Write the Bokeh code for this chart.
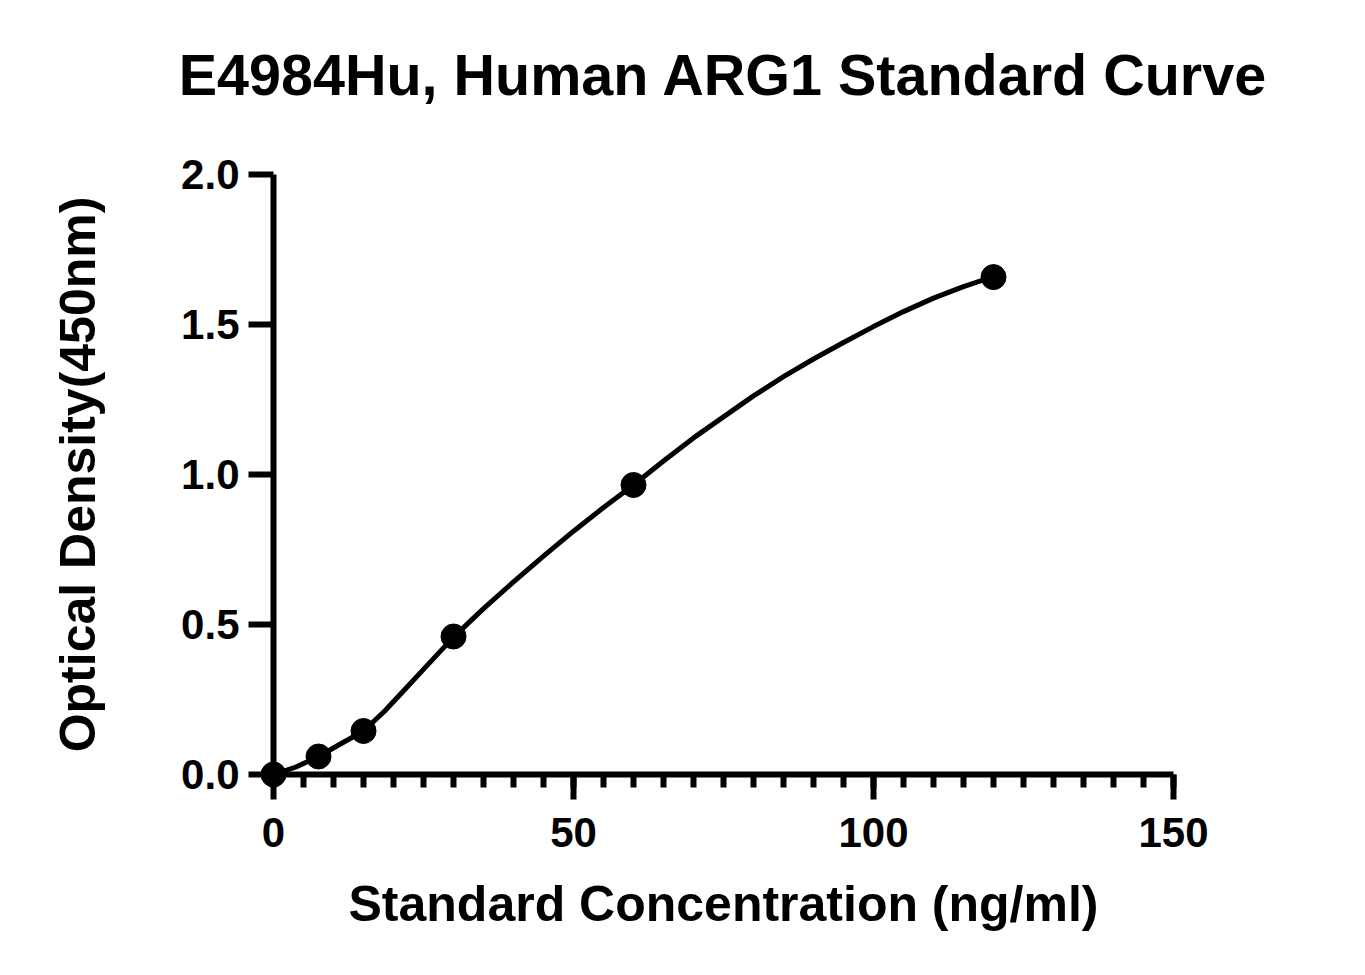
from bokeh.plotting import figure
from bokeh.models import Range1d, FixedTicker, CustomJSTickFormatter, Title
from bokeh.embed import file_html
from bokeh.resources import INLINE

TITLE = "E4984Hu, Human ARG1 Standard Curve"

# Standard points
std_conc = [0, 7.5, 15, 30, 60, 120]
std_od = [0.0, 0.06, 0.145, 0.46, 0.965, 1.658]

# Fitted curve
curve_conc = [0, 3.75, 7.5, 11, 15, 18.5, 22, 26, 30, 35, 40, 45, 50, 55, 60,
              65, 70, 75, 80, 85, 90, 95, 100, 105, 110, 115, 120]
curve_od = [0.0, 0.025, 0.06, 0.10, 0.145, 0.211, 0.286, 0.372, 0.458, 0.553, 0.642, 0.728, 0.811, 0.89, 0.965,
            1.045, 1.122, 1.192, 1.262, 1.326, 1.385, 1.44, 1.493, 1.543, 1.588, 1.626, 1.66]

x_ticks = [0, 50, 100, 150]
y_ticks = [0.0, 0.5, 1.0, 1.5, 2.0]
x_minor = [v for v in range(0, 151, 5)]

FONT = "Liberation Sans"

p = figure(frame_width=900, frame_height=600,
           min_border_left=273, min_border_top=174,
           min_border_right=172, min_border_bottom=181,
           x_range=Range1d(0, 150), y_range=Range1d(0, 2.0),
           output_backend="svg", toolbar_location=None,
           title=TITLE)

p.title.text_font = FONT
p.title.text_font_size = "57.5px"
p.title.text_font_style = "bold"
p.title.align = "center"
p.title.text_color = "black"
p.title.standoff = 10

# blank spacer between the title and the plot frame
spacer = Title(text=" ", text_font_size="10px", standoff=50)
p.add_layout(spacer, "above")

p.outline_line_color = None
p.xgrid.grid_line_color = None
p.ygrid.grid_line_color = None
p.background_fill_color = "white"
p.border_fill_color = "white"

for ax in (p.xaxis[0], p.yaxis[0]):
    ax.axis_line_width = 6
    ax.axis_line_color = "black"
    ax.major_tick_line_width = 6
    ax.major_tick_line_color = "black"
    ax.major_tick_in = 0
    ax.major_tick_out = 25
    ax.major_label_text_font = FONT
    ax.major_label_text_font_size = "42px"
    ax.major_label_text_font_style = "bold"
    ax.major_label_text_color = "black"
    ax.axis_label_text_font = FONT
    ax.axis_label_text_font_size = "50px"
    ax.axis_label_text_font_style = "bold"
    ax.axis_label_text_color = "black"

p.xaxis[0].ticker = FixedTicker(ticks=x_ticks, minor_ticks=x_minor)
p.xaxis[0].minor_tick_line_width = 6
p.xaxis[0].minor_tick_line_color = "black"
p.xaxis[0].minor_tick_in = 0
p.xaxis[0].minor_tick_out = 13
p.xaxis[0].major_label_standoff = 18
p.xaxis[0].axis_label = "Standard Concentration (ng/ml)"
p.xaxis[0].axis_label_standoff = 26

p.yaxis[0].ticker = FixedTicker(ticks=y_ticks)
p.yaxis[0].minor_tick_line_color = None
p.yaxis[0].major_label_standoff = 9
p.yaxis[0].axis_label = "Optical Density(450nm)"
p.yaxis[0].axis_label_standoff = 72
p.yaxis[0].formatter = CustomJSTickFormatter(code="return tick.toFixed(1);")

p.line(curve_conc, curve_od, line_width=5, line_color="black", line_join="round")
p.scatter(std_conc, std_od, size=25, fill_color="black", line_color="black", level="overlay")

open("out.html", "w").write(file_html(p, INLINE))
